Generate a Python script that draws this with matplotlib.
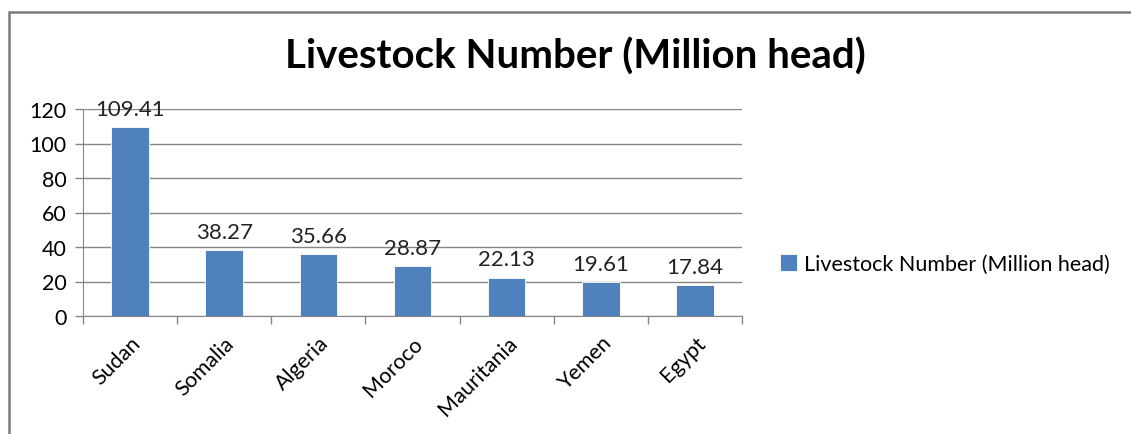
import matplotlib.pyplot as plt
from matplotlib.patches import Rectangle

countries = ['Sudan', 'Somalia', 'Algeria', 'Moroco', 'Mauritania', 'Yemen', 'Egypt']
livestock = [109.41, 38.27, 35.66, 28.87, 22.13, 19.61, 17.84]
series_name = 'Livestock Number (Million head)'
y_ticks = [0, 20, 40, 60, 80, 100, 120]

bar_color = '#4F81BD'
grid_color = '#868686'
plt.rcParams['font.family'] = ['Lato', 'DejaVu Sans']

fig = plt.figure(figsize=(11.31, 4.35), dpi=100)

# outer chart border
fig.patches.append(Rectangle((9 / 1131, -0.1), 1.2, (435 - 13) / 435 + 0.1,
                             transform=fig.transFigure, fill=False,
                             edgecolor='#7a7a7a', linewidth=1.8))

ax = fig.add_axes([83 / 1131, (435 - 317) / 435, (742 - 83) / 1131, (317 - 110) / 435])

x = list(range(len(countries)))
bars = ax.bar(x, livestock, width=0.4, color=bar_color, edgecolor='white',
              linewidth=0.6, zorder=3, label=series_name)

for xi, v in zip(x, livestock):
    ax.annotate('{:.2f}'.format(v), (xi, v), xytext=(0, 6),
                textcoords='offset points', ha='center', va='bottom',
                fontsize=16, color='#222222')

ax.set_xlim(-0.5, len(countries) - 0.5)
ax.set_ylim(0, 120)
ax.set_yticks(y_ticks)
ax.set_yticklabels([str(t) for t in y_ticks], fontsize=15.5)
ax.yaxis.grid(True, color=grid_color, linewidth=1)
ax.set_axisbelow(True)

ax.set_xticks([i - 0.5 for i in range(len(countries) + 1)], minor=False)
ax.set_xticklabels([])
ax.set_xticks(x, minor=True)
ax.set_xticklabels(countries, minor=True, rotation=45, ha='right',
                   rotation_mode='anchor', fontsize=15.5)
ax.tick_params(axis='x', which='major', length=6, color=grid_color, width=1)
ax.tick_params(axis='x', which='minor', length=0, pad=12)
ax.tick_params(axis='y', length=6, color=grid_color, width=1, pad=6)

for side in ['top', 'right']:
    ax.spines[side].set_visible(False)
ax.spines['left'].set_color(grid_color)
ax.spines['bottom'].set_color(grid_color)

fig.text(575 / 1131, 1 - 57 / 435, series_name, ha='center', va='center',
         fontsize=29, fontweight='bold')

ax.legend(loc='center left', bbox_to_anchor=(780 / 1131, 1 - 265 / 435),
          bbox_transform=fig.transFigure, frameon=False, fontsize=15.5,
          borderaxespad=0, borderpad=0,
          handlelength=0.8, handleheight=0.8, handletextpad=0.3)

fig.savefig('out.png', dpi=100)
